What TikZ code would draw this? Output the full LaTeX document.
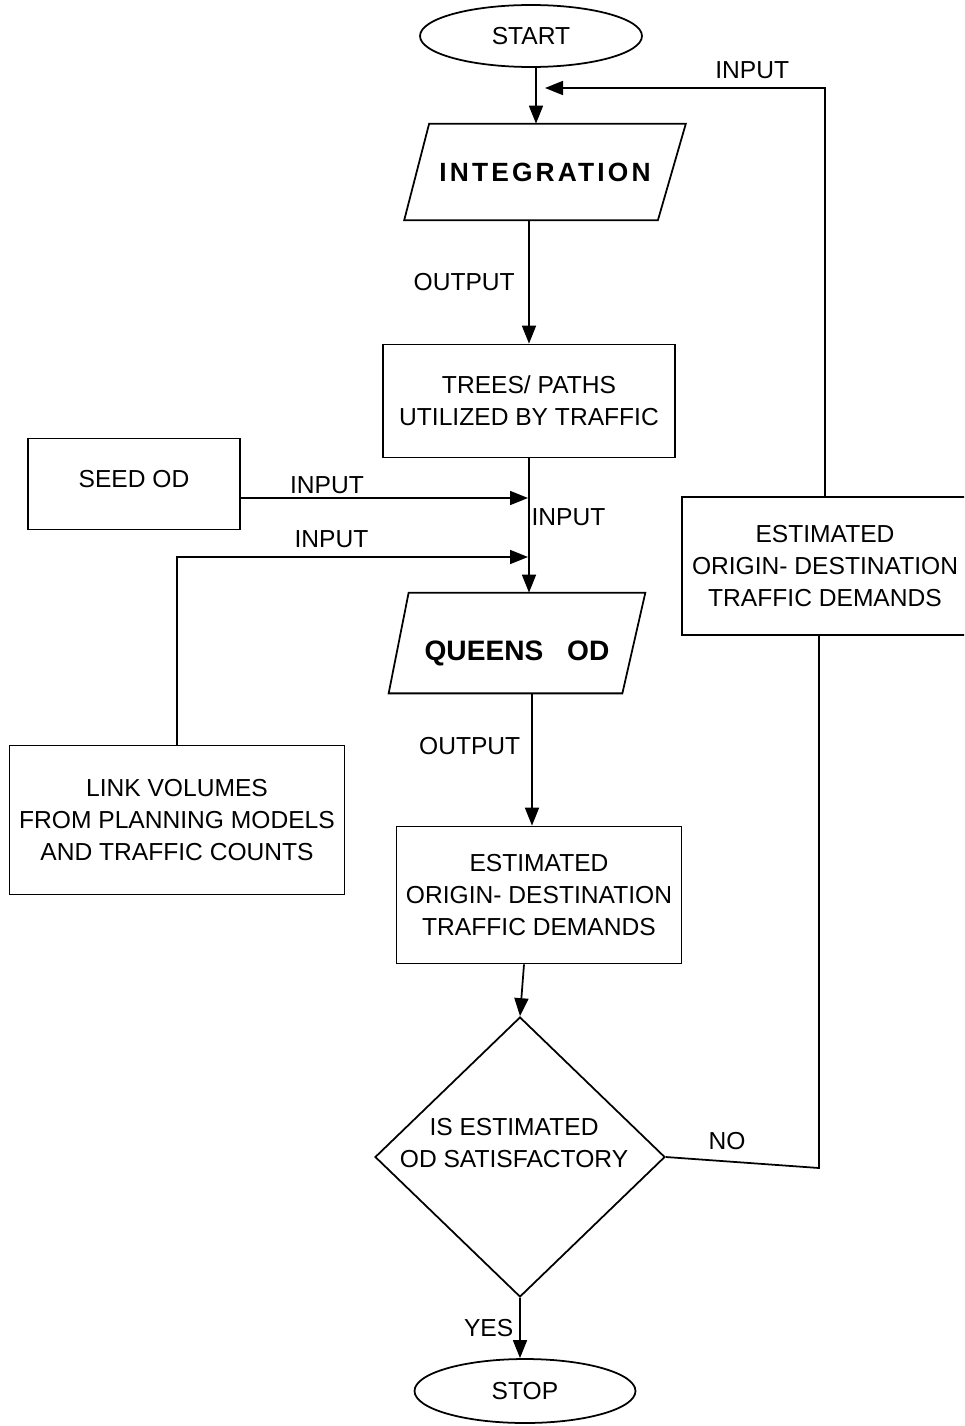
\documentclass[tikz,border=0pt]{standalone}
\usepackage{fontspec}
\setmainfont{Liberation Sans}
\usetikzlibrary{shapes.geometric, arrows.meta}

\begin{document}
\begin{tikzpicture}[x=0.02cm, y=-0.02cm, line width=1pt,
  every node/.style={font=\fontsize{14}{18}\selectfont},
  box/.style={rectangle, draw, align=center},
  io/.style={rectangle, inner sep=0pt, font=\fontsize{15}{18}\selectfont\bfseries},
  term/.style={ellipse, draw},
  arr/.style={-{Triangle[length=0.36cm, width=0.28cm]}}]
  \useasboundingbox (0, 0) rectangle (964, 1426);
  \clip (0, 0) rectangle (964, 1426);

  \node (start) [term, minimum width=4.44cm, minimum height=1.24cm] at (531, 36) {START};
  \node (integ) [io, minimum width=5.6cm, minimum height=1.9cm] at (545, 172) {\addfontfeature{LetterSpace=12}INTEGRATION};
  \draw ([xshift=0.5cm]integ.north west) -- (integ.north east) -- ([xshift=-0.56cm]integ.south east) -- (integ.south west) -- cycle;
  \node (trees) [box, minimum width=5.84cm, minimum height=2.26cm] at (529, 401) {TREES/ PATHS\\UTILIZED BY TRAFFIC};
  \node (seed) [box, text height=10pt, text depth=5.6pt, minimum width=4.24cm, minimum height=1.82cm] at (134, 484) {SEED OD};
  \node (queens) [io, text height=20pt, text depth=0.6pt, minimum width=5.1cm, minimum height=1.98cm, font=\fontsize{16}{18}\selectfont\bfseries] at (517, 643) {QUEENS\hspace{0.85em}OD};
  \draw ([xshift=0.4cm]queens.north west) -- (queens.north east) -- ([xshift=-0.46cm]queens.south east) -- (queens.south west) -- cycle;
  \node (links) [box, minimum width=6.7cm, minimum height=2.98cm] at (177, 820) {LINK VOLUMES\\FROM PLANNING MODELS\\AND TRAFFIC COUNTS};
  \node (est) [box, minimum width=5.7cm, minimum height=2.74cm] at (539, 895) {ESTIMATED\\ORIGIN- DESTINATION\\TRAFFIC DEMANDS};
  \node (check) [diamond, draw, inner sep=0pt, minimum width=5.8cm, minimum height=5.6cm] at (520, 1157) {};
  \node (checktxt) [align=center] at (514, 1143) {IS ESTIMATED\\OD SATISFACTORY};
  \node (back) [box, minimum width=5.72cm, minimum height=2.76cm] at (825, 566) {ESTIMATED\\ORIGIN- DESTINATION\\TRAFFIC DEMANDS};
  \node (stop) [term, minimum width=4.42cm, minimum height=1.28cm] at (525, 1391) {STOP};

  \coordinate (j1) at (528, 498);
  \coordinate (j2) at (528, 557);
  \coordinate (fb) at (545, 88);
  \coordinate (c1) at (819, 1168);

  \draw[arr] ([xshift=0.1cm]start.south) -- ([xshift=0.1cm]start.south |- integ.north);
  \draw[arr] (integ.south -| trees.north) -- (trees.north) node (l1) [midway, left=0.15cm] {OUTPUT};
  \draw[arr] (trees.south) -- (trees.south |- queens.north) node (l2) [pos=0.44, right, inner sep=1pt] {INPUT};
  \draw[arr] (seed.east |- j1) -- (j1) node (l3) [pos=0.3, above, inner sep=2pt] {INPUT};
  \draw[arr] (links.north) |- (j2) node (l4) [pos=0.72, above, inner sep=5pt] {INPUT};
  \draw[arr] ([xshift=0.3cm]queens.south) -- ([xshift=0.3cm]queens.south |- est.north) node (l5) [pos=0.4, left=0.1cm] {OUTPUT};
  \draw[arr] ([xshift=-0.3cm]est.south) -- (check.north);
  \draw[arr] (check.south) -- (check.south |- stop.north) node (l6) [midway, left] {YES};
  \draw (check.east) -- (c1) node (l7) [pos=0.4, above=0.1cm] {NO} -- (c1 |- back.south);
  \draw[arr] (back.north) |- (fb) node (l8) [pos=0.63, above, inner sep=5pt] {INPUT};
\end{tikzpicture}
\end{document}
